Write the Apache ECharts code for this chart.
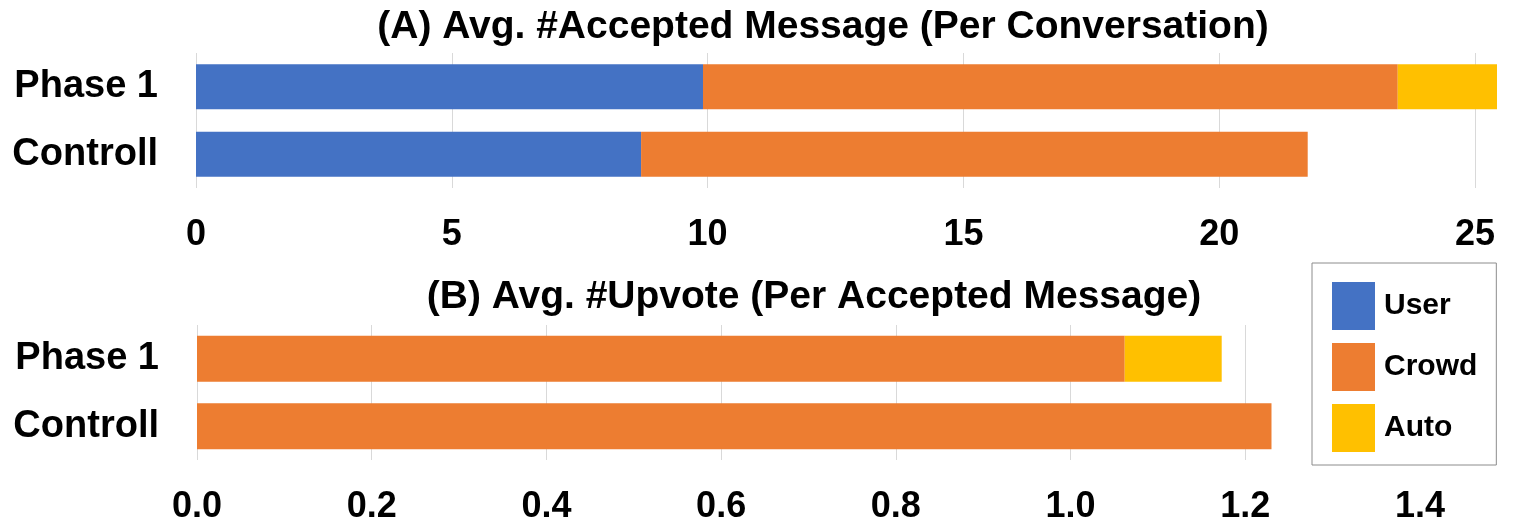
<!DOCTYPE html>
<html>
<head>
<meta charset="utf-8">
<script src="https://cdn.jsdelivr.net/npm/echarts@6/dist/echarts.min.js"></script>
<style>
  html, body { margin: 0; padding: 0; background: #fff; }
  #main { width: 1536px; height: 528px; }
</style>
</head>
<body>
<div id="main"></div>
<script>
// categories (top to bottom)
const categories = ['Phase 1', 'Controll'];

// (A) avg accepted messages per conversation
const accUser = [9.91, 8.70];
const accCrowd = [13.58, 13.03];
const accAuto = [1.94, 0];

// (B) avg upvotes per accepted message
const upUser = [0, 0];
const upCrowd = [1.062, 1.230];
const upAuto = [0.111, 0];

const colors = { User: '#4472C4', Crowd: '#ED7D31', Auto: '#FFC000' };
const font = 'Liberation Sans, Arial, sans-serif';

const chart = echarts.init(document.getElementById('main'));

function catAxis(idx) {
  return {
    type: 'category',
    gridIndex: idx,
    data: categories,
    inverse: true,
    axisLine: { show: false },
    axisTick: { show: false },
    axisLabel: {
      fontSize: 38, fontWeight: 'bold', color: '#000', fontFamily: font,
      margin: 38, padding: [5, 0, 0, 0]
    }
  };
}

function valAxis(idx, max, interval, fmt) {
  return {
    type: 'value',
    gridIndex: idx,
    min: 0,
    max: max,
    interval: interval,
    axisLine: { show: false },
    axisTick: { show: false },
    splitLine: { lineStyle: { color: '#d9d9d9', width: 1 } },
    axisLabel: { fontSize: 36, fontWeight: 'bold', color: '#000', fontFamily: font, margin: 29, formatter: fmt }
  };
}

function bar(name, idx, stack, data, width) {
  return {
    name: name,
    type: 'bar',
    xAxisIndex: idx,
    yAxisIndex: idx,
    stack: stack,
    data: data,
    barWidth: width,
    clip: false,
    itemStyle: { color: colors[name] }
  };
}

chart.setOption({
  animation: false,
  textStyle: { fontFamily: font },
  title: [
    {
      text: '(A) Avg. #Accepted Message (Per Conversation)',
      left: 818, top: 3, textAlign: 'center',
      textStyle: { fontSize: 39, fontWeight: 'bold', color: '#000', fontFamily: font }
    },
    {
      text: '(B) Avg. #Upvote (Per Accepted Message)',
      left: 809, top: 273, textAlign: 'center',
      textStyle: { fontSize: 39, fontWeight: 'bold', color: '#000', fontFamily: font }
    }
  ],
  legend: {
    orient: 'vertical',
    left: 1312,
    top: 263,
    data: ['User', 'Crowd', 'Auto'],
    icon: 'rect',
    itemWidth: 43,
    itemHeight: 48,
    itemGap: 13,
    padding: [19, 19, 13, 20],
    backgroundColor: '#fff',
    borderColor: '#8c8c8c',
    borderWidth: 1,
    selectedMode: false,
    textStyle: { fontSize: 30, fontWeight: 'bold', color: '#000', fontFamily: font, padding: [0, 0, 0, 4] }
  },
  grid: [
    { left: 196, top: 53, height: 135, right: 61 },
    { left: 197, top: 325, height: 135, right: 116 }
  ],
  xAxis: [
    valAxis(0, 25, 5, v => String(v)),
    valAxis(1, 1.4, 0.2, v => v.toFixed(1))
  ],
  yAxis: [catAxis(0), catAxis(1)],
  series: [
    bar('User', 0, 'a', accUser, 45),
    bar('Crowd', 0, 'a', accCrowd, 45),
    bar('Auto', 0, 'a', accAuto, 45),
    bar('User', 1, 'b', upUser, 46),
    bar('Crowd', 1, 'b', upCrowd, 46),
    bar('Auto', 1, 'b', upAuto, 46)
  ]
});
</script>
</body>
</html>
